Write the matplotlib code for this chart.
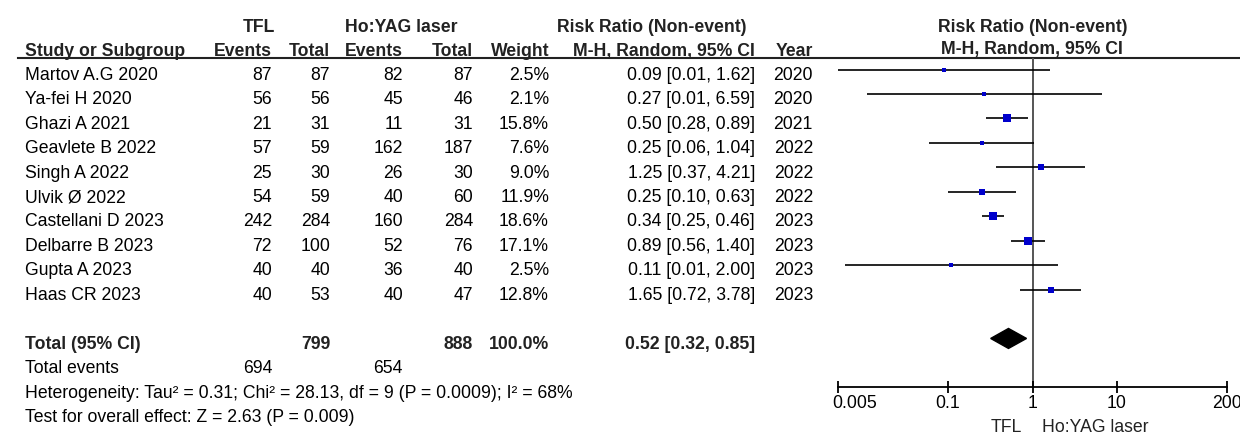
import numpy as np
import matplotlib
matplotlib.use("Agg")
import matplotlib.pyplot as plt

plt.rcParams['font.family'] = ['Liberation Sans', 'DejaVu Sans']

# study data
studies = ["Martov A.G 2020", "Ya-fei H 2020", "Ghazi A 2021", "Geavlete B 2022",
           "Singh A 2022", "Ulvik Ø 2022", "Castellani D 2023", "Delbarre B 2023",
           "Gupta A 2023", "Haas CR 2023"]
tfl_events = [87, 56, 21, 57, 25, 54, 242, 72, 40, 40]
tfl_total = [87, 56, 31, 59, 30, 59, 284, 100, 40, 53]
ho_events = [82, 45, 11, 162, 26, 40, 160, 52, 36, 40]
ho_total = [87, 46, 31, 187, 30, 60, 284, 76, 40, 47]
weights = [2.5, 2.1, 15.8, 7.6, 9.0, 11.9, 18.6, 17.1, 2.5, 12.8]
rr = [0.09, 0.27, 0.50, 0.25, 1.25, 0.25, 0.34, 0.89, 0.11, 1.65]
ci_lo = [0.005, 0.011, 0.28, 0.06, 0.37, 0.10, 0.25, 0.56, 0.006, 0.72]
ci_hi = [1.62, 6.59, 0.89, 1.04, 4.21, 0.63, 0.46, 1.40, 2.00, 3.78]
years = [2020, 2020, 2021, 2022, 2022, 2022, 2023, 2023, 2023, 2023]

# pooled
total_tfl = 799
total_ho = 888
total_weight = 100.0
events_tfl = 694
events_ho = 654
pooled_rr = 0.52
pooled_lo = 0.32
pooled_hi = 0.85

tick_vals = [0.005, 0.1, 1, 10, 200]
tick_labels = ["0.005", "0.1", "1", "10", "200"]

het_text = "Heterogeneity: Tau\u00b2 = 0.31; Chi\u00b2 = 28.13, df = 9 (P = 0.0009); I\u00b2 = 68%"
test_text = "Test for overall effect: Z = 2.63 (P = 0.009)"

W, H = 1240, 436
row0, step = 69.5, 24.45   # pixel y of first study row, row pitch
FS = 12.7
TXT = 0.42  # baseline offset of text below the plot row

def prow(px):
    return (px - row0) / step

fig = plt.figure(figsize=(W / 100, H / 100), dpi=100)

# table axes: x in pixels, y in row units
tab = fig.add_axes([0, 0, 1, 1])
tab.set_xlim(0, W)
tab.set_ylim(prow(H), prow(0))
tab.axis("off")

# column right edges
c_ev1, c_tot1, c_ev2, c_tot2, c_w, c_ci, c_yr = 272, 330, 403, 473, 549, 755, 813

def t(x, y, s, ha="right", bold=False):
    tab.text(x, y + TXT, s, ha=ha, va="baseline", fontsize=FS,
             fontweight="bold" if bold else "normal",
             color="#222222" if bold else "black")

# headers
h1 = prow(32) - TXT
h2 = prow(55.8) - TXT
t(259, h1, "TFL", ha="center", bold=True)
t(401, h1, "Ho:YAG laser", ha="center", bold=True)
t(652, h1, "Risk Ratio (Non-event)", ha="center", bold=True)
t(1033, h1, "Risk Ratio (Non-event)", ha="center", bold=True)
t(25, h2, "Study or Subgroup", ha="left", bold=True)
t(c_ev1, h2, "Events", bold=True)
t(c_tot1, h2, "Total", bold=True)
t(c_ev2, h2, "Events", bold=True)
t(c_tot2, h2, "Total", bold=True)
t(c_w, h2, "Weight", bold=True)
t(c_ci, h2, "M-H, Random, 95% CI", bold=True)
t(c_yr, h2, "Year", bold=True)
t(1032, prow(54.5) - TXT, "M-H, Random, 95% CI", ha="center", bold=True)
tab.plot([18, W], [prow(57.8)] * 2, color="#222222", lw=1.5)

for i, name in enumerate(studies):
    t(25, i, name, ha="left")
    t(c_ev1, i, str(tfl_events[i]))
    t(c_tot1, i, str(tfl_total[i]))
    t(c_ev2, i, str(ho_events[i]))
    t(c_tot2, i, str(ho_total[i]))
    t(c_w, i, f"{weights[i]:.1f}%")
    t(c_ci, i, f"{rr[i]:.2f} [{ci_lo[i]:.2f}, {ci_hi[i]:.2f}]")
    t(c_yr, i, str(years[i]))

n = len(studies)
tr = n + 1
t(25, tr, "Total (95% CI)", ha="left", bold=True)
t(c_tot1, tr, str(total_tfl), bold=True)
t(c_tot2, tr, str(total_ho), bold=True)
t(c_w, tr, f"{total_weight:.1f}%", bold=True)
t(c_ci, tr, f"{pooled_rr:.2f} [{pooled_lo:.2f}, {pooled_hi:.2f}]", bold=True)
t(25, tr + 1, "Total events", ha="left")
t(c_ev1, tr + 1, str(events_tfl))
t(c_ev2, tr + 1, str(events_ho))
t(25, tr + 2, het_text, ha="left")
t(25, tr + 3, test_text, ha="left")

# forest plot axes
x0, x1 = 838, 1227
y_top, y_axis = 57.8, 387
ax = fig.add_axes([x0 / W, (H - y_axis) / H, (x1 - x0) / W, (y_axis - y_top) / H])
ax.set_xscale("log")
ax.set_xlim(tick_vals[0], tick_vals[-1])
ax.set_ylim(prow(y_axis), prow(y_top))
ax.patch.set_alpha(0)
for s in ["top", "left", "right"]:
    ax.spines[s].set_visible(False)
ax.spines["bottom"].set_linewidth(1.3)
ax.set_yticks([])
ax.set_xticks(tick_vals)
ax.set_xticklabels(tick_labels, fontsize=FS)
ax.xaxis.set_minor_locator(matplotlib.ticker.NullLocator())
ax.tick_params(axis="x", direction="inout", length=8, width=1.3, pad=2)
labs = ax.get_xticklabels()
labs[0].set_horizontalalignment("left")
labs[0].set_transform(labs[0].get_transform() +
                      matplotlib.transforms.ScaledTranslation(-0.06, 0, fig.dpi_scale_trans))

ax.axvline(1, color="#555555", lw=1.4, zorder=1)

ys = np.arange(n)
ax.hlines(ys, ci_lo, ci_hi, color="black", lw=1.2, zorder=2)
for i in range(n):
    side_px = 2.5 + 0.3 * weights[i]
    ax.plot(rr[i], i, marker="s", ms=side_px * 0.72, color="#0000cc",
            markeredgewidth=0, zorder=3)

dh = 10 / step
ax.fill([pooled_lo, pooled_rr, pooled_hi, pooled_rr],
        [tr, tr - dh, tr, tr + dh], color="black", zorder=3)

tab.text(1022, prow(427.7), "TFL", ha="right", va="center", fontsize=FS, color="#222222")
tab.text(1042, prow(427.7), "Ho:YAG laser", ha="left", va="center", fontsize=FS, color="#222222")

fig.savefig("out.png", dpi=100)
